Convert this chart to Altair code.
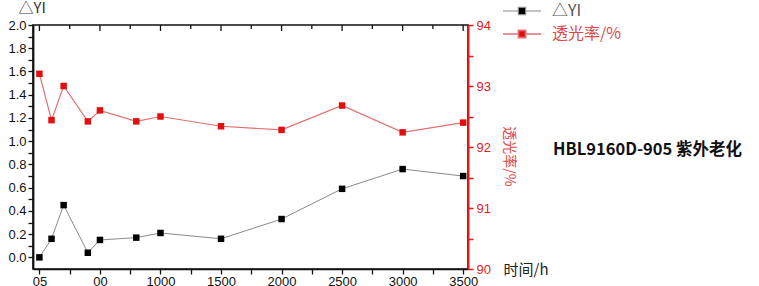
import altair as alt
import pandas as pd

# ---- data ----
hours = [0, 100, 200, 400, 500, 800, 1000, 1500, 2000, 2500, 3000, 3500]
delta_yi = [0.00, 0.16, 0.45, 0.04, 0.15, 0.17, 0.21, 0.16, 0.33, 0.59, 0.76, 0.70]
transmittance = [93.20, 92.44, 93.00, 92.42, 92.60, 92.42, 92.50, 92.34, 92.28, 92.68, 92.24, 92.40]

x_tick_values = [0, 250, 500, 750, 1000, 1250, 1500, 1750, 2000, 2250, 2500, 2750, 3000, 3250, 3500]
x_label_values = [0, 500, 1000, 1500, 2000, 2500, 3000, 3500]
x_label_texts = ["05", "00", "1000", "1500", "2000", "2500", "3000", "3500"]

yl_tick_values = [round(i * 0.1, 1) for i in range(0, 21)]
yr_tick_values = [90, 90.5, 91, 91.5, 92, 92.5, 93, 93.5, 94]

series_names = ["△YI", "透光率/%"]
annotation = "HBL9160D-905 紫外老化"

df = pd.DataFrame({"t": hours, "yi": delta_yi, "tr": transmittance,
                   "s1": series_names[0], "s2": series_names[1]})
ticks_df = pd.DataFrame({"t": x_tick_values,
                         "major": [v in x_label_values for v in x_tick_values]})

FONT = "Liberation Sans"
RED = "#e31b1b"
RED_LINE = "#e07070"

label_map = "{" + ",".join(f"'{v}':'{s}'" for v, s in zip(x_label_values, x_label_texts)) + "}"
x_label_expr = f"({label_map})[''+datum.value] || ''"

x_enc = alt.X("t:Q",
              scale=alt.Scale(domain=[-53, 3540], nice=False, zero=False),
              axis=alt.Axis(values=x_tick_values, labelExpr=x_label_expr,
                            title="时间/h", titleAngle=0, titleAlign="left",
                            titleBaseline="middle", titleX=470, titleY=0,
                            titleFont="Noto Sans CJK SC", titleFontSize=15,
                            titleFontWeight="normal", titleColor="#222",
                            labelFont=FONT, labelFontSize=13, labelColor="#111",
                            labelPadding=1, tickSize=5, tickColor="#111",
                            domainColor="#111", domainWidth=1.6, tickWidth=1.3,
                            grid=False, labelFlush=False, labelOverlap=False))

yl_scale = alt.Scale(domain=[-0.1, 2.0], nice=False, zero=False)
yl_axis = alt.Axis(values=yl_tick_values,
                   labelExpr="round(datum.value*10) % 2 == 0 ? format(datum.value, '.1f') : ''",
                   title="△YI", titleAngle=0, titleAlign="left", titleBaseline="middle",
                   titleX=-15, titleY=-18, titleFont="Noto Sans CJK SC", titleFontSize=15,
                   titleFontWeight="normal", titleColor="#333",
                   labelFont=FONT, labelFontSize=13, labelColor="#111", labelPadding=2,
                   tickSize=5, tickColor="#111", tickWidth=1.3, domainColor="#111",
                   domainWidth=1.8, grid=False, labelOverlap=False, labelFlush=False)

yr_scale = alt.Scale(domain=[90, 94], nice=False, zero=False)
yr_axis = alt.Axis(orient="right", values=yr_tick_values,
                   labelExpr="datum.value % 1 == 0 ? format(datum.value, 'd') : ''",
                   title="透光率/%", titleAngle=90, titleBaseline="middle",
                   titleX=40, titleY=131, titleFont="Noto Sans CJK SC", titleFontSize=14,
                   titleFontWeight="normal", titleColor="#e04848",
                   labelFont=FONT, labelFontSize=13, labelColor=RED, labelPadding=3,
                   tickSize=5, tickColor=RED, tickWidth=1.5, domainColor=RED,
                   domainWidth=2, grid=False, labelOverlap=False, labelFlush=False)

legend_path = "M-1,0H-0.2M0.2,0H1M-0.19,-0.19H0.19V0.19H-0.19Z"

base = alt.Chart(df)

yi_line = base.mark_line(color="#8a8a8a", strokeWidth=1).encode(
    x=x_enc, y=alt.Y("yi:Q", scale=yl_scale, axis=yl_axis))
yi_pts = base.mark_point(shape="square", filled=True, size=42, opacity=1).encode(
    x=x_enc, y=alt.Y("yi:Q", scale=yl_scale, axis=yl_axis),
    color=alt.Color("s1:N", scale=alt.Scale(domain=[series_names[0]], range=["#000000"]),
                    legend=alt.Legend(title=None, orient="none", legendX=469, legendY=-34,
                                      symbolType=legend_path, symbolSize=1444,
                                      symbolStrokeColor="#8a8a8a", symbolStrokeWidth=1.2,
                                      labelFont="Noto Sans CJK SC", labelFontSize=16,
                                      labelColor="#555", labelOffset=10, padding=0)))
top_major = alt.Chart(ticks_df).transform_filter("datum.major").mark_rule(
    color="#111", strokeWidth=1.3).encode(x=x_enc, y=alt.value(0), y2=alt.value(6))
top_minor = alt.Chart(ticks_df).transform_filter("!datum.major").mark_rule(
    color="#111", strokeWidth=1.3).encode(x=x_enc, y=alt.value(0), y2=alt.value(4))

tr_line = base.mark_line(color=RED_LINE, strokeWidth=1.2).encode(
    x=x_enc, y=alt.Y("tr:Q", scale=yr_scale, axis=yr_axis))
tr_pts = base.mark_point(shape="square", filled=True, size=42, opacity=1).encode(
    x=x_enc, y=alt.Y("tr:Q", scale=yr_scale, axis=yr_axis),
    color=alt.Color("s2:N", scale=alt.Scale(domain=[series_names[1]], range=["#e30f0f"]),
                    legend=alt.Legend(title=None, orient="none", legendX=469, legendY=-11,
                                      symbolType=legend_path, symbolSize=1444,
                                      symbolStrokeColor=RED_LINE, symbolStrokeWidth=1.6,
                                      labelFont="Noto Sans CJK SC", labelFontSize=16,
                                      labelColor="#e04848", labelOffset=10, padding=0)))

left = alt.layer(yi_line, yi_pts, top_major, top_minor)
right = alt.layer(tr_line, tr_pts)

chart = alt.layer(left, right).resolve_scale(y="independent", color="independent").properties(
    width=435, height=244,
    autosize=alt.AutoSizeParams(type="none"),
    padding={"left": 33, "top": 25, "right": 291, "bottom": 17},
    background="white",
    title=alt.TitleParams(annotation, anchor="start", orient="top", dx=545, dy=179,
                          font="Noto Sans CJK SC", fontSize=16.5, fontWeight="bold",
                          color="#111", baseline="middle"),
).configure_view(stroke="#111", strokeWidth=1.6)

chart.save("out.html", embed_options={"renderer": "svg", "actions": False})
